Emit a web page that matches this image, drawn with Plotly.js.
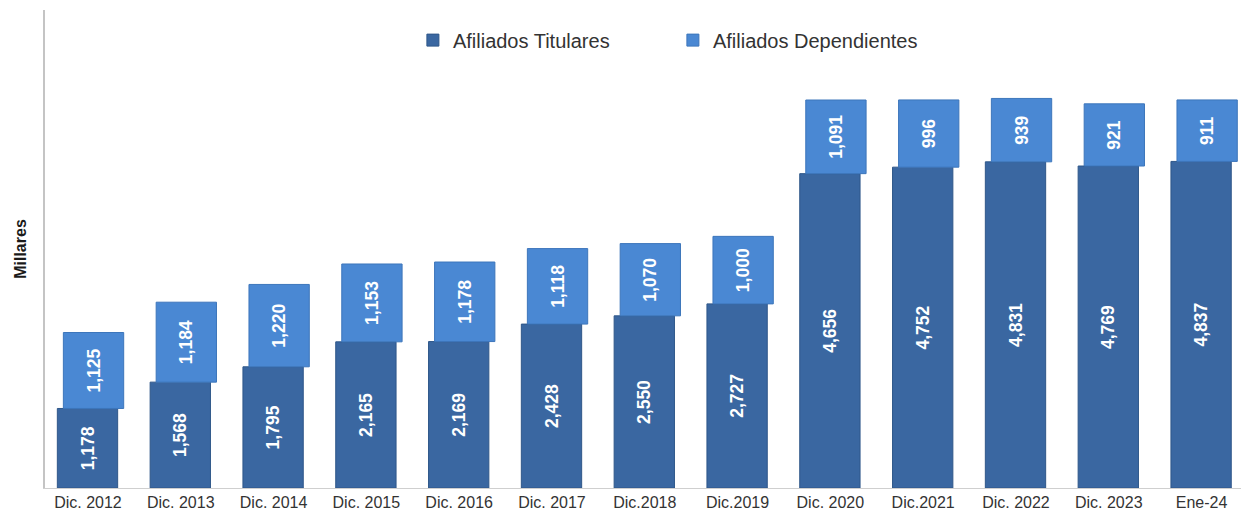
<!DOCTYPE html>
<html>
<head>
<meta charset="utf-8">
<script src="https://cdn.plot.ly/plotly-3.0.1.min.js"></script>
<style>
  html, body { margin: 0; padding: 0; background: #ffffff; }
  #chart { width: 1241px; height: 515px; }
</style>
</head>
<body>
<div id="chart"></div>
<script>
const categories = ["Dic. 2012", "Dic. 2013", "Dic. 2014", "Dic. 2015", "Dic. 2016", "Dic. 2017",
  "Dic.2018", "Dic.2019", "Dic. 2020", "Dic.2021", "Dic. 2022", "Dic. 2023", "Ene-24"];
const titulares = [1178, 1568, 1795, 2165, 2169, 2428, 2550, 2727, 4656, 4752, 4831, 4769, 4837];
const dependientes = [1125, 1184, 1220, 1153, 1178, 1118, 1070, 1000, 1091, 996, 939, 921, 911];

const fmt = v => v.toLocaleString('en-US');
const labelFont = { family: 'Liberation Sans, Arial, sans-serif', size: 17.5, color: '#ffffff', weight: 'bold' };

const traces = [
  {
    type: 'bar',
    name: 'Afiliados Titulares',
    x: categories,
    y: titulares,
    width: 0.65,
    offset: -0.33,
    marker: { color: '#3a67a1', line: { color: '#2f5789', width: 1 } },
    text: titulares.map(fmt),
    textposition: 'inside',
    insidetextanchor: 'middle',
    textangle: -90,
    constraintext: 'none',
    textfont: labelFont,
    hoverinfo: 'x+y'
  },
  {
    type: 'bar',
    name: 'Afiliados Dependientes',
    x: categories,
    y: dependientes,
    base: titulares,
    width: 0.65,
    offset: -0.265,
    marker: { color: '#4a88d3', line: { color: '#3d76bb', width: 1 } },
    text: dependientes.map(fmt),
    textposition: 'inside',
    insidetextanchor: 'middle',
    textangle: -90,
    constraintext: 'none',
    textfont: labelFont,
    hoverinfo: 'x+y'
  }
];

const layout = {
  width: 1241,
  height: 515,
  margin: { l: 45, r: 0, t: 10, b: 27 },
  paper_bgcolor: '#ffffff',
  plot_bgcolor: '#ffffff',
  barmode: 'overlay',
  showlegend: true,
  legend: {
    orientation: 'h',
    x: 0.525,
    xanchor: 'center',
    y: 0.937,
    yanchor: 'middle',
    font: { family: 'Liberation Sans, Arial, sans-serif', size: 20, color: '#333333' },
    entrywidth: 215,
    traceorder: 'normal',
    bgcolor: 'rgba(0,0,0,0)'
  },
  xaxis: {
    type: 'category',
    range: [-0.463, 12.425],
    showline: true,
    linecolor: '#cfcfcf',
    linewidth: 1,
    ticks: '',
    showgrid: false,
    zeroline: false,
    tickfont: { family: 'Liberation Sans, Arial, sans-serif', size: 16, color: '#333333' },
    fixedrange: true
  },
  yaxis: {
    range: [0, 7080],
    showline: true,
    linecolor: '#c4c4c4',
    linewidth: 2,
    showticklabels: false,
    ticks: '',
    showgrid: false,
    zeroline: false,
    title: { text: 'Millares', font: { family: 'Liberation Sans, Arial, sans-serif', size: 16, color: '#1a1a1a', weight: 'bold' }, standoff: 12 },
    fixedrange: true
  }
};

Plotly.newPlot('chart', traces, layout, { displayModeBar: false, staticPlot: true });
</script>
</body>
</html>
